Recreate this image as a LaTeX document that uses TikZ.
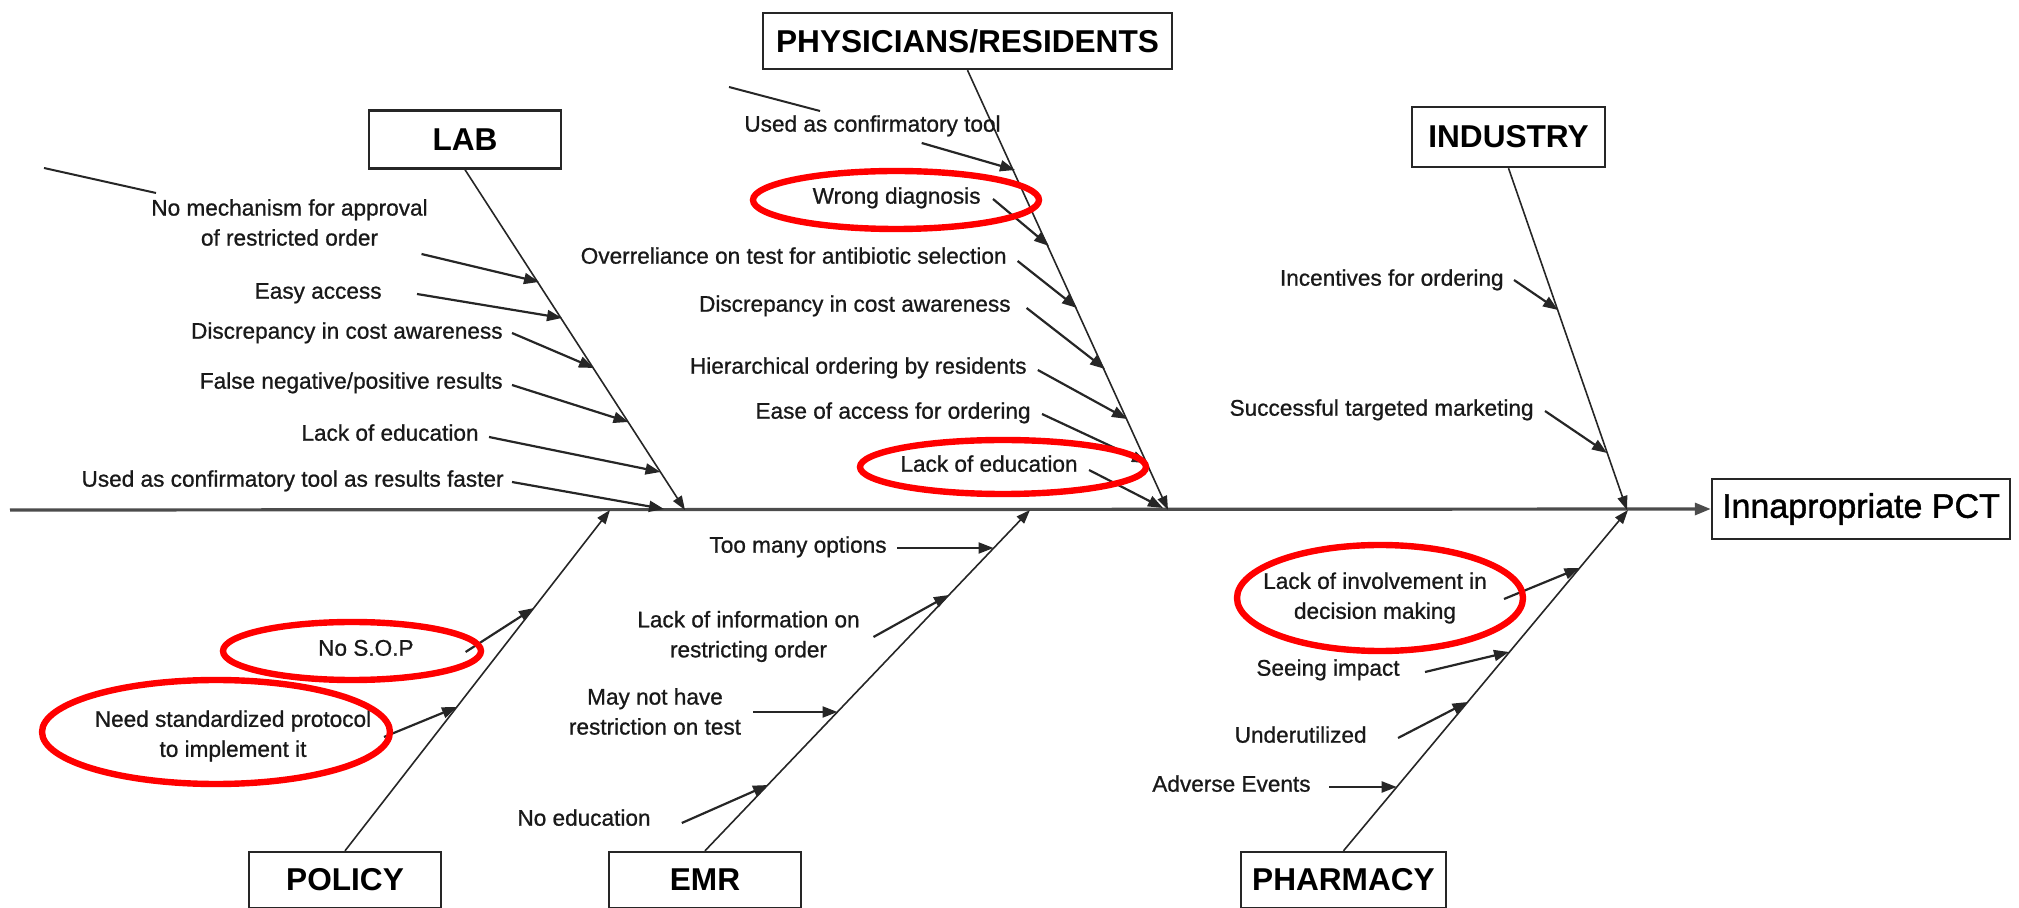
\documentclass[tikz,border=0pt]{standalone}
\usepackage{fontspec}
\setmainfont{Liberation Sans}
\newfontfamily\lblfont{Liberation Sans}[FakeBold=0.9]
\newfontfamily\efffont{Liberation Sans}[FakeBold=1.2]
\usetikzlibrary{arrows.meta}
\begin{document}
\begin{tikzpicture}[x=0.5pt,y=-0.5pt,
  lbl/.style={font=\lblfont\fontsize{11.3}{15}\selectfont, inner sep=0pt, text=black!90, text height=8.1pt, text depth=2.4pt},
  lbltwo/.style={font=\lblfont\fontsize{11.3}{15}\selectfont, inner sep=0pt, text=black!90, align=center},
  cat/.style={draw=black!85, line width=1.2pt, fill=white, inner sep=0pt, font=\fontsize{15.8}{18}\selectfont\bfseries, minimum height=29pt},
  bone/.style={line width=0.8pt, draw=black!85, -{Triangle[length=7pt,width=5pt]}},
  arr/.style={line width=1.1pt, draw=black!85, -{Triangle[length=7.5pt,width=5.5pt]}},
  hl/.style={draw=red, line width=3.2pt},
]
\useasboundingbox (0,0) rectangle (2019,908);

% category boxes and effect
\node[cat, minimum width=96pt] (lab) at (465,139.5) {LAB};
\node[cat, minimum width=204.5pt, minimum height=28pt] (phys) at (967.5,41) {PHYSICIANS/RESIDENTS};
\node[cat, minimum width=96.5pt, minimum height=30pt] (ind) at (1508.5,137) {INDUSTRY};
\node[cat, minimum width=96pt, minimum height=28pt] (pol) at (345,880) {POLICY};
\node[cat, minimum width=96pt, minimum height=28pt] (emr) at (705,880) {EMR};
\node[cat, minimum width=102.5pt, minimum height=28pt] (pha) at (1343.5,880) {PHARMACY};
\node[cat, font=\efffont\fontsize{17}{20}\selectfont, minimum width=149pt, minimum height=30pt] (eff) at (1861,509) {Innapropriate PCT};

% spine
\coordinate (sp0) at (10,510);
\draw[line width=1.6pt, black!70, -{Triangle[length=8pt,width=6pt]}] (sp0) -- (eff.west);

% junctions on spine
\coordinate (labj) at (685,510);
\coordinate (physj) at (1168,510);
\coordinate (indj) at (1627,510);
\coordinate (polj) at (610,510);
\coordinate (emrj) at (1030,510);
\coordinate (phaj) at (1628,510);

\draw[bone] (lab.south) -- (labj);
\draw[bone] (phys.south) -- (physj);
\draw[bone] (ind.south) -- (indj);
\draw[bone] (pol.north) -- (polj);
\draw[bone] (emr.north) -- (emrj);
\draw[bone] (pha.north) -- (phaj);

% stray lines
\coordinate (st1a) at (44,168); \coordinate (st1b) at (156,193);
\coordinate (st2a) at (729,87); \coordinate (st2b) at (820,111);
\draw[line width=1pt, black!85] (st1a) -- (st1b);
\draw[line width=1pt, black!85] (st2a) -- (st2b);

% LAB causes
\node[lbltwo] (l1) at (289.5,222.5) {No mechanism for approval\\of restricted order};
\node[lbl, anchor=east] (l2) at (382,293) {Easy access};
\node[lbl, anchor=east] (l3) at (503,333) {Discrepancy in cost awareness};
\node[lbl, anchor=east] (l4) at (503,383) {False negative/positive results};
\node[lbl, anchor=east] (l5) at (479,435) {Lack of education};
\node[lbl, anchor=east] (l6) at (504,481) {Used as confirmatory tool as results faster};
\coordinate (l1s) at (421.5,254); \coordinate (l1e) at (539,282);
\coordinate (l2s) at (417,294); \coordinate (l2e) at (562,318);
\coordinate (l3s) at (512,333); \coordinate (l3e) at (594,368);
\coordinate (l4s) at (512,385); \coordinate (l4e) at (628.5,422);
\coordinate (l5s) at (489,437); \coordinate (l5e) at (660.5,472);
\coordinate (l6s) at (512,482); \coordinate (l6e) at (664,509);
\foreach \i in {1,...,6} {\draw[arr] (l\i s) -- (l\i e);}

% PHYSICIANS causes
\node[lbl, anchor=east] (p1) at (1001,126) {Used as confirmatory tool};
\node[lbl, anchor=east] (p2) at (981,198) {Wrong diagnosis};
\node[lbl, anchor=east] (p3) at (1007,258) {Overreliance on test for antibiotic selection};
\node[lbl, anchor=east] (p4) at (1011,306) {Discrepancy in cost awareness};
\node[lbl, anchor=east] (p5) at (1027,368) {Hierarchical ordering by residents};
\node[lbl, anchor=east] (p6) at (1031,413) {Ease of access for ordering};
\node[lbl, anchor=east] (p7) at (1078,466) {Lack of education};
\coordinate (p1s) at (921.7,143); \coordinate (p1e) at (1015,170);
\coordinate (p2s) at (993,199); \coordinate (p2e) at (1049,246);
\coordinate (p3s) at (1017.6,261); \coordinate (p3e) at (1077,308);
\coordinate (p4s) at (1026.6,308); \coordinate (p4e) at (1105,369);
\coordinate (p5s) at (1037.8,370); \coordinate (p5e) at (1127,419);
\coordinate (p6s) at (1042,414); \coordinate (p6e) at (1147,463);
\coordinate (p7s) at (1089,470); \coordinate (p7e) at (1163,508);
\foreach \i in {1,...,7} {\draw[arr] (p\i s) -- (p\i e);}

% INDUSTRY causes
\node[lbl, anchor=east] (i1) at (1504,280) {Incentives for ordering};
\node[lbl, anchor=east] (i2) at (1534,410) {Successful targeted marketing};
\coordinate (i1s) at (1514,280); \coordinate (i1e) at (1558,310);
\coordinate (i2s) at (1545,411); \coordinate (i2e) at (1607,453);
\foreach \i in {1,2} {\draw[arr] (i\i s) -- (i\i e);}

% POLICY causes
\node[lbl, anchor=east] (q1) at (414,650) {No S.O.P};
\node[lbltwo] (q2) at (233,736) {Need standardized protocol\\to implement it};
\coordinate (q1s) at (465.6,652); \coordinate (q1e) at (534,608);
\coordinate (q2s) at (384,737); \coordinate (q2e) at (457,707);
\foreach \i in {1,2} {\draw[arr] (q\i s) -- (q\i e);}

% EMR causes
\node[lbl, anchor=east] (m1) at (887,547) {Too many options};
\node[lbltwo] (m2) at (748.5,636.5) {Lack of information on\\restricting order};
\node[lbltwo] (m3) at (655,711.5) {May not have\\restriction on test};
\node[lbl, anchor=east] (m4) at (651,820) {No education};
\coordinate (m1s) at (897,548); \coordinate (m1e) at (993.5,548);
\coordinate (m2s) at (873.5,637); \coordinate (m2e) at (949,595);
\coordinate (m3s) at (753,712); \coordinate (m3e) at (837.5,712);
\coordinate (m4s) at (681.8,823); \coordinate (m4e) at (768,785);
\foreach \i in {1,...,4} {\draw[arr] (m\i s) -- (m\i e);}

% PHARMACY causes
\node[lbltwo] (h1) at (1375,598) {Lack of involvement in\\decision making};
\node[lbl, anchor=east] (h2) at (1400,670) {Seeing impact};
\node[lbl, anchor=east] (h3) at (1367,737) {Underutilized};
\node[lbl, anchor=east] (h4) at (1311,786) {Adverse Events};
\coordinate (h1s) at (1504,599); \coordinate (h1e) at (1579.5,568);
\coordinate (h2s) at (1425,672); \coordinate (h2e) at (1509,652);
\coordinate (h3s) at (1398,738); \coordinate (h3e) at (1467.5,702);
\coordinate (h4s) at (1329,787); \coordinate (h4e) at (1396.7,787);
\foreach \i in {1,...,4} {\draw[arr] (h\i s) -- (h\i e);}

% red highlights
\draw[hl] (896,200) ellipse [x radius=71.5pt, y radius=14.5pt];
\draw[hl] (1003,467) ellipse [x radius=71.5pt, y radius=13.5pt];
\draw[hl] (352,651) ellipse [x radius=64.5pt, y radius=14.5pt];
\draw[hl] (216,732) ellipse [x radius=87pt, y radius=26pt];
\draw[hl] (1380,598) ellipse [x radius=71.5pt, y radius=26.5pt];
\end{tikzpicture}
\end{document}
